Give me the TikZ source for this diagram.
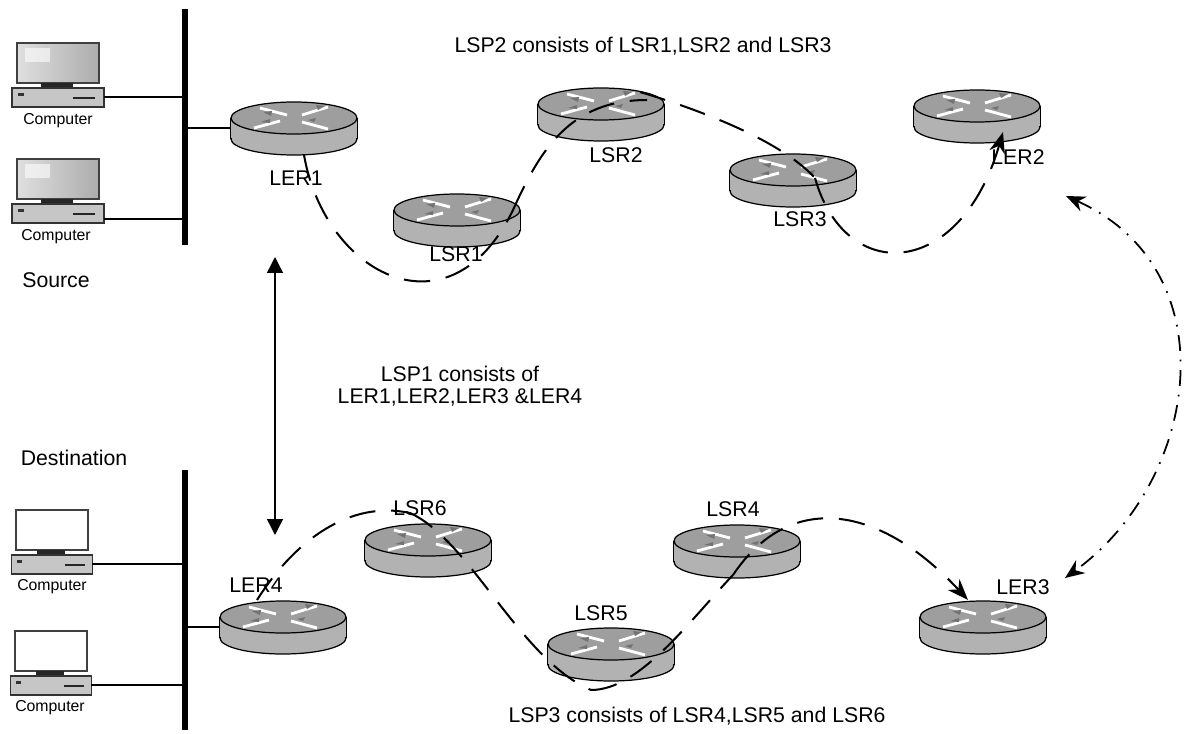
\documentclass[tikz,border=0pt]{standalone}
\usepackage{fontspec}
\setmainfont{Liberation Sans}
\usetikzlibrary{arrows.meta}
\definecolor{routertop}{gray}{0.62}
\definecolor{routerside}{gray}{0.70}
\tikzset{
  busline/.style={line width=3.1pt},
  wire/.style={line width=0.8pt},
  lsp/.style={line width=1.15pt, dash pattern=on 15pt off 9pt},
  lspend/.style={lsp, -{Stealth[length=12pt,width=9pt]}},
  peer/.style={line width=0.8pt, {Triangle[length=9pt,width=9pt]}-{Triangle[length=9pt,width=9pt]}},
  peerdash/.style={line width=1pt, dash pattern=on 9pt off 5pt on 1pt off 5pt,
    {Stealth[length=11pt,width=9pt]}-{Stealth[length=11pt,width=9pt]}},
  txt/.style={inner sep=0pt, font=\fontsize{12.1}{12.5}\selectfont, align=center},
  pclabel/.style={inner sep=0pt, font=\fontsize{9}{10}\selectfont},
  pics/router/.style={code={
    \fill[routerside] (0,21) ellipse [x radius=63,y radius=16];
    \fill[routerside] (-63,0) rectangle (63,21);
    \draw[line width=0.6pt] (-63,0) -- (-63,21) (63,0) -- (63,21);
    \draw[line width=0.7pt] (0,21) ellipse [x radius=63,y radius=16];
    \fill[routerside] (-62.6,0) rectangle (62.6,20);
    \filldraw[fill=routertop, line width=0.7pt] (0,0) ellipse [x radius=63,y radius=16];
    \draw[white, line width=1.6pt] (-7,-3) -- (-34,-10) (8,-3) -- (34,-11)
      (-14,3) -- (-40,10) (8,4) -- (34,11);
    \fill[black!55] (-31,-6) -- (-22,-7) -- (-23,-2) -- cycle (31,-12) -- (22,-13) -- (24,-8) -- cycle
      (-33,4) -- (-24,1) -- (-24,5) -- cycle (14,2) -- (22,0) -- (20,4) -- cycle;
    \coordinate (-c) at (0,0);
    \coordinate (-w) at (-63,10);
    \coordinate (-e) at (63,10);
  }},
  pics/computer/.style={code={
    \filldraw[#1, draw=black!75, line width=0.8pt] (-41,-32) rectangle (41,8);
    \fill[white, opacity=0.6] (-33,-27) rectangle (-8,-13);
    \fill[black!85] (-17,8) rectangle (15,13);
    \filldraw[fill=gray!45, draw=black!80, line width=0.8pt] (-46,13) rectangle (46,32);
    \fill[black!80] (-40,18) rectangle (-34,21);
    \fill[black!85] (15,22) rectangle (37,24);
    \coordinate (-e) at (46,22);
  }}
}
\begin{document}
\begin{tikzpicture}[x=0.02cm,y=-0.02cm]
\useasboundingbox (0,0) rectangle (1189,733);
% hosts and the two buses
\coordinate (bustop1) at (185,9);
\coordinate (busend1) at (185,245);
\coordinate (bustop2) at (185,470);
\coordinate (busend2) at (185,730);
\draw[busline] (bustop1) -- (busend1);
\draw[busline] (bustop2) -- (busend2);
\pic (pc1) at (58,75) {computer={left color=gray!25,right color=gray!65}};
\pic (pc2) at (58,191) {computer={left color=gray!25,right color=gray!65}};
\pic[xscale=0.88] (pc3) at (52,542) {computer={fill=white}};
\pic[xscale=0.88] (pc4) at (51,663) {computer={fill=white}};
\node[pclabel] (pc1text) at (58,121) {Computer};
\node[pclabel] (pc2text) at (56,237) {Computer};
\node[pclabel] (pc3text) at (52,587) {Computer};
\node[pclabel] (pc4text) at (50,708) {Computer};
\node[txt] (source) at (56,280) {Source};
\node[txt] (dest) at (74,458) {Destination};
% routers
\pic (ler1) at (294,118) {router};
\pic (lsr1) at (457,210) {router};
\pic (lsr2) at (601,104) {router};
\pic (lsr3) at (793,170) {router};
\pic (ler2) at (977,106) {router};
\pic (lsr6) at (428,540) {router};
\pic (lsr4) at (737,541) {router};
\pic (lsr5) at (611,644) {router};
\pic (ler4) at (283,617) {router};
\pic (ler3) at (983,617) {router};
\node[txt] (ler1text) at (296,178) {LER1};
\node[txt] (lsr1text) at (456,254) {LSR1};
\node[txt] (lsr2text) at (616,155) {LSR2};
\node[txt] (lsr3text) at (800,219) {LSR3};
\node[txt] (ler2text) at (1018,157) {LER2};
\node[txt] (lsr6text) at (420,508) {LSR6};
\node[txt] (lsr4text) at (733,509) {LSR4};
\node[txt] (lsr5text) at (601,613) {LSR5};
\node[txt] (ler4text) at (256,585) {LER4};
\node[txt] (ler3text) at (1023,587) {LER3};
% links to the hosts
\coordinate (pc2out) at (104,219);
\draw[wire] (pc1-e) -- (pc1-e -| bustop1);
\draw[wire] (pc2out) -- (pc2out -| bustop1);
\draw[wire] (pc3-e) -- (pc3-e -| bustop2);
\draw[wire] (pc4-e) -- (pc4-e -| bustop2);
\draw[wire] (ler1-w) -- (ler1-w -| bustop1);
\draw[wire] (ler4-w) -- (ler4-w -| bustop2);
% label switched paths
\coordinate (ler1out) at (304,155);
\coordinate (lsr1out) at (513,210);
\coordinate (lsr2in) at (647,100);
\coordinate (lsr2out) at (640,92);
\coordinate (lsr3out) at (815,178);
\coordinate (ler2in) at (1003,132);
\draw[lsp] (ler1out) .. controls (325,275) and (450,340) .. (lsr1out);
\draw[lsp] (lsr1out) .. controls (540,150) and (570,100) .. (lsr2in);
\draw[lsp] (lsr2out) .. controls (700,110) and (780,140) .. (lsr3out);
\draw[lspend] (lsr3out) .. controls (845,285) and (960,280) .. (ler2in);
\coordinate (ler4out) at (257,600);
\coordinate (lsr6out) at (410,513);
\coordinate (lsr5out) at (591,690);
\coordinate (lsr4out) at (733,575);
\coordinate (ler3in) at (968,600);
\draw[lsp] (ler4out) .. controls (295,540) and (350,500) .. (lsr6out);
\draw[lsp] (lsr6out) .. controls (470,540) and (520,660) .. (lsr5out);
\draw[lsp] (lsr5out) .. controls (640,690) and (690,620) .. (lsr4out);
\draw[lspend] (lsr4out) .. controls (790,490) and (880,505) .. (ler3in);
% peers
\coordinate (peerup) at (275,257);
\coordinate (peerdown) at (275,535);
\draw[peer] (peerup) -- (peerdown);
\coordinate (ler2peer) at (1066,196);
\coordinate (ler3peer) at (1065,578);
\draw[peerdash] (ler2peer) .. controls (1230,270) and (1200,480) .. (ler3peer);
% captions
\node[txt] (lsp2text) at (643,46) {LSP2 consists of LSR1,LSR2 and LSR3};
\node[txt] (lsp1text) at (460,386) {LSP1 consists of\\LER1,LER2,LER3 \&LER4};
\node[txt] (lsp3text) at (697,716) {LSP3 consists of LSR4,LSR5 and LSR6};
\end{tikzpicture}
\end{document}
